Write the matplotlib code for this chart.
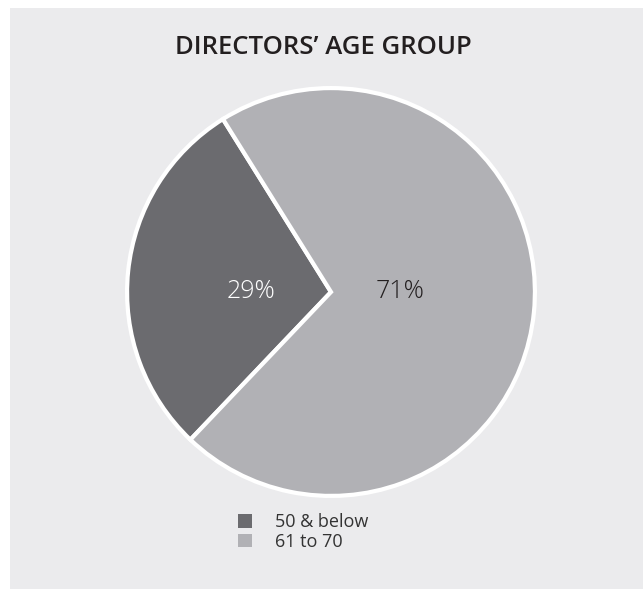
import matplotlib.pyplot as plt
from matplotlib.patches import Rectangle, Patch

W, H = 643, 589

labels = ['50 & below', '61 to 70']
values = [29, 71]
colors = ['#6b6b6f', '#b1b1b5']
pct_colors = ['white', '#231f20']
title = 'DIRECTORS\u2019 AGE GROUP'

plt.rcParams['font.family'] = ['Open Sans', 'DejaVu Sans']

fig = plt.figure(figsize=(W / 100, H / 100), dpi=100, facecolor='white')
fig.patches.append(Rectangle((10 / W, 0), 1 - 10 / W, (H - 8) / H,
                             transform=fig.transFigure, facecolor='#ebebed',
                             edgecolor='none', zorder=-1))

cx, cy, r = 331, 292, 208
ax = fig.add_axes([(cx - r) / W, (H - cy - r) / H, 2 * r / W, 2 * r / H])
ax.set_zorder(2)
ax.set_facecolor('none')
wedges, texts, autotexts = ax.pie(values, colors=colors, startangle=122,
                                  autopct='%d%%', pctdistance=0.38,
                                  wedgeprops=dict(edgecolor='white', linewidth=3),
                                  textprops=dict(fontsize=18, fontweight='light'))
# labels sit on the horizontal through the centre
for t, c, x in zip(autotexts, pct_colors, [-0.39, 0.34]):
    t.set_color(c)
    t.set_position((x, 0))
ax.set_xlim(-1.02, 1.02)
ax.set_ylim(-1.02, 1.02)
ax.set_aspect('equal')
ax.axis('off')

fig.text(323 / W, 1 - 47 / H, title, ha='center', va='center',
         fontsize=18.5, fontweight='semibold', color='#231f20', zorder=3)

handles = [Patch(facecolor=c, edgecolor='none') for c in colors]
leg = fig.legend(handles, labels, loc='upper left', bbox_to_anchor=(222 / W, 1 - 497 / H),
                 frameon=False, fontsize=13, handlelength=0.75, handleheight=0.75,
                 handletextpad=1.3, labelspacing=0.1, labelcolor='#333333')
leg.set_zorder(3)

fig.savefig('out.png', dpi=100, facecolor='white')
